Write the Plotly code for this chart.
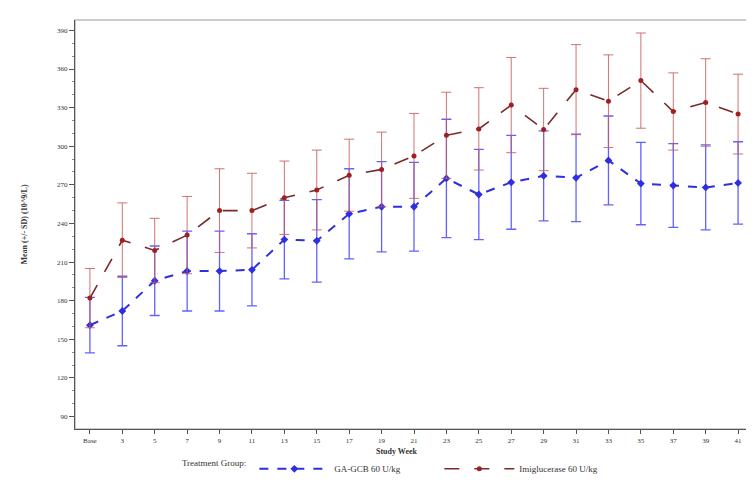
import plotly.graph_objects as go

weeks = ["Base", "3", "5", "7", "9", "11", "13", "15", "17", "19", "21",
         "23", "25", "27", "29", "31", "33", "35", "37", "39", "41"]

ga_mean = [161, 172, 195.5, 203, 203, 204, 227.5, 226.5, 247.5, 253, 253,
           275, 262.5, 272, 277, 275.5, 289, 271, 269.5, 268, 271.5]
ga_sd = [21.5, 27, 27, 31, 31, 28, 30.5, 32, 35, 35, 34.5,
         46, 35, 36.5, 35, 34, 34.5, 32, 32.5, 33, 32]

imi_mean = [182, 227, 219, 231, 250, 250, 260, 266, 277.5, 282, 292.5,
            308.5, 313.5, 332, 313, 344, 335, 351, 327, 334, 325]
imi_sd = [23, 29, 25, 30, 32.5, 29, 28.5, 31, 28, 29, 33,
          33.5, 32, 37, 32, 35, 36, 37, 30, 34, 31]

y_ticks = [90, 120, 150, 180, 210, 240, 270, 300, 330, 360, 390]

FONT = "Liberation Serif"

fig = go.Figure()

fig.add_trace(go.Scatter(
    x=weeks, y=ga_mean, mode="lines+markers", name="GA-GCB 60 U/kg",
    line=dict(color="#2f2fe0", width=2, dash="dash"),
    marker=dict(symbol="diamond", size=6, color="#2f2fe0"),
    error_y=dict(type="data", array=ga_sd, visible=True,
                 color="rgba(70,70,255,0.85)", thickness=1.3, width=5),
))

fig.add_trace(go.Scatter(
    x=weeks, y=imi_mean, mode="lines+markers", name="Imiglucerase 60 U/kg",
    line=dict(color="#7a2a2a", width=1.6, dash="longdash"),
    marker=dict(symbol="circle", size=5, color="#a02020"),
    error_y=dict(type="data", array=imi_sd, visible=True,
                 color="rgba(200,90,90,0.85)", thickness=1, width=5),
))

fig.update_layout(
    width=754, height=481,
    margin=dict(l=67, r=9, t=12, b=60),
    paper_bgcolor="white", plot_bgcolor="white",
    font=dict(family=FONT, size=8, color="#333"),
    showlegend=True,
    legend=dict(
        orientation="h", xref="container", x=0.228, xanchor="left",
        yref="container", y=0.042, yanchor="middle",
        title=dict(text="Treatment Group:", side="left",
                   font=dict(family=FONT, size=9, color="#333")),
        font=dict(family=FONT, size=9, color="#333"),
        itemwidth=70, entrywidth=100, entrywidthmode="pixels",
        tracegroupgap=0, traceorder="normal",
        bgcolor="rgba(0,0,0,0)", borderwidth=0,
    ),
    shapes=[dict(type="rect", xref="paper", yref="paper", x0=0, y0=0, x1=1, y1=1,
                 line=dict(color="#bbbbbb", width=1.5), layer="below")],
    annotations=[dict(text="<b>Study Week</b>", xref="paper", yref="paper",
                      x=0.475, y=-0.056, xanchor="center", yanchor="middle",
                      showarrow=False,
                      font=dict(family=FONT, size=8, color="#333"))],
)

fig.update_xaxes(
    type="category", categoryorder="array", categoryarray=weeks,
    range=[-0.46, 20.46],
    showgrid=False, zeroline=False,
    showline=True, linecolor="#555", linewidth=1.2,
    ticks="outside", ticklen=4, tickcolor="#555",
    tickfont=dict(family=FONT, size=7, color="#333"),
    automargin=False,
)

fig.update_yaxes(
    range=[80.3, 398.1],
    tickvals=y_ticks, ticktext=[str(v) for v in y_ticks],
    showgrid=False, zeroline=False,
    showline=True, linecolor="#555", linewidth=1.2,
    ticks="outside", ticklen=5, tickcolor="#555",
    minor=dict(ticks="outside", ticklen=2, tickcolor="#888", dtick=10),
    tickfont=dict(family=FONT, size=7, color="#333"),
    title=dict(text="<b>Mean (+/- SD) (10^9/L)</b>",
               font=dict(family=FONT, size=8, color="#333"), standoff=28),
    automargin=False,
)

fig.write_html("out.html")
